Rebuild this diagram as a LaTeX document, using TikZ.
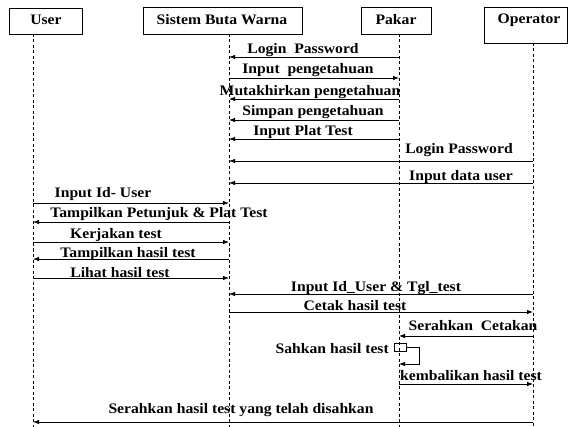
\documentclass[tikz,border=0pt]{standalone}
\usepackage{fontspec}
\setmainfont{Liberation Serif}[FakeStretch=1.08]
\usetikzlibrary{arrows.meta,calc}
\newcommand{\lblfont}{\fontsize{14.5}{16}\selectfont\bfseries}
\tikzset{
  actor/.style={draw, line width=0.8pt, rectangle, inner sep=0pt},
  lifeline/.style={line width=0.8pt, dash pattern=on 3pt off 2.5pt},
  msg/.style={line width=0.8pt, -{Latex[length=6pt,width=4.5pt]}},
  lbl/.style={font=\lblfont, inner sep=0pt, anchor=base},
}
\begin{document}
\begin{tikzpicture}[x=1pt, y=-1pt]
  \useasboundingbox[fill=white] (0,0) rectangle (577,427);

  % actors
  \node[actor, minimum width=73pt, minimum height=26pt, anchor=north west] (u) at (9,8) {};
  \node[actor, minimum width=159pt, minimum height=27pt, anchor=north west] (s) at (143,7) {};
  \node[actor, minimum width=70pt, minimum height=27pt, anchor=north west] (p) at (361,7) {};
  \node[actor, minimum width=83pt, minimum height=36pt, anchor=north west] (o) at (484,7) {};
  \node[lbl] (ut) at (46,25) {User};
  \node[lbl] (st) at (222,25) {Sistem Buta Warna};
  \node[lbl] (pt) at (396,25) {Pakar};
  \node[lbl] (ot) at (529,24) {Operator};

  % lifelines
  \coordinate (uT) at (33,34);  \coordinate (uB) at (33,427);
  \coordinate (sT) at (229,34); \coordinate (sB) at (229,427);
  \coordinate (pT) at (399,34); \coordinate (pB) at (399,427);
  \coordinate (oT) at (533,43); \coordinate (oB) at (533,427);
  \draw[lifeline] (uT) -- (uB);
  \draw[lifeline] (sT) -- (sB);
  \draw[lifeline] (pT) -- (pB);
  \draw[lifeline] (oT) -- (oB);

  % messages
  \draw[msg] (pT |- 0,57) -- (sT |- 0,57);
  \node[lbl] at (303,54) {Login\ \ Password};
  \draw[msg] (sT |- 0,78) -- (pT |- 0,78);
  \node[lbl] at (308,74) {Input\ \ pengetahuan};
  \draw[msg] (pT |- 0,99) -- (sT |- 0,99);
  \node[lbl] at (310,96) {Mutakhirkan pengetahuan};
  \draw[msg] (pT |- 0,120) -- (sT |- 0,120);
  \node[lbl] at (313,116) {Simpan pengetahuan};
  \draw[msg] (pT |- 0,139) -- (sT |- 0,139);
  \node[lbl] at (303,136) {Input Plat Test};
  \draw[msg] (oT |- 0,161) -- (sT |- 0,161);
  \node[lbl] at (459,154) {Login Password};
  \draw[msg] (oT |- 0,183) -- (sT |- 0,183);
  \node[lbl] at (461,181) {Input data user};

  \draw[msg] (uT |- 0,203) -- (sT |- 0,203);
  \node[lbl] at (103,198) {Input Id- User};
  \draw[msg] (sT |- 0,222) -- (uT |- 0,222);
  \node[lbl] at (159,218) {Tampilkan Petunjuk \& Plat Test};
  \draw[msg] (uT |- 0,242) -- (sT |- 0,242);
  \node[lbl] at (116,239) {Kerjakan test};
  \draw[msg] (sT |- 0,259) -- (uT |- 0,259);
  \node[lbl] at (128,258) {Tampilkan hasil test};
  \draw[msg] (uT |- 0,278) -- (sT |- 0,278);
  \node[lbl] at (120,277) {Lihat hasil test};

  \draw[msg] (oT |- 0,294) -- (sT |- 0,294);
  \node[lbl] at (376,291) {Input Id\_User \& Tgl\_test};
  \draw[msg] (sT |- 0,312) -- (oT |- 0,312);
  \node[lbl] at (355,310) {Cetak hasil test};
  \draw[msg] (oT |- 0,336) -- (pT |- 0,336);
  \node[lbl] at (473,330) {Serahkan\ \ Cetakan};

  % self call of Pakar
  \node[actor, minimum width=12pt, minimum height=8pt] (act) at (400,347) {};
  \node[lbl, anchor=base east] at (389,353) {Sahkan hasil test};
  \draw[msg] (act.east) -- ++(13,0) -- ++(0,17) -- (pT |- 0,364);

  \draw[msg] (pT |- 0,384) -- (oT |- 0,384);
  \node[lbl] at (471,380) {kembalikan hasil test};
  \draw[msg] (oT |- 0,422) -- (uT |- 0,422);
  \node[lbl] at (241,413) {Serahkan hasil test yang telah disahkan};
\end{tikzpicture}
\end{document}
